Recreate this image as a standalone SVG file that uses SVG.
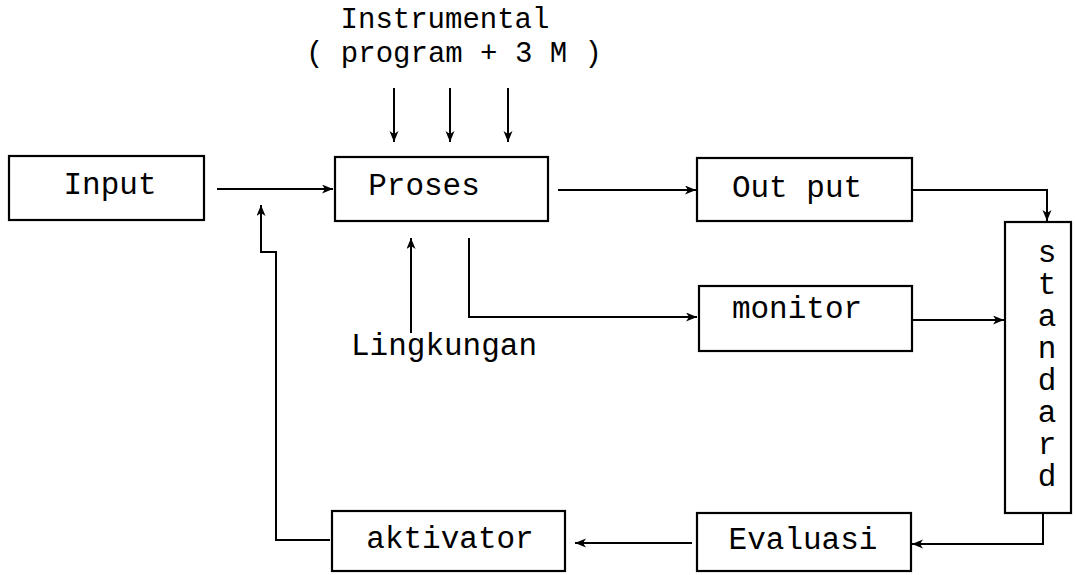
<svg xmlns="http://www.w3.org/2000/svg" width="1076" height="575" viewBox="0 0 1076 575">
<defs>
<marker id="ah" markerUnits="userSpaceOnUse" markerWidth="12" markerHeight="10" refX="11" refY="4.5" orient="auto">
<path d="M0,0 L11,4.5 L0,9 L3,4.5 z" fill="#000"/>
</marker>
<style>
.box{fill:#fff;stroke:#000;stroke-width:2.2}
.t{font-family:"Liberation Mono","Courier New",monospace;font-size:31px;fill:#000;text-anchor:middle}
.s{font-size:29px}
.c{fill:none;stroke:#000;stroke-width:2}
.a{marker-end:url(#ah)}
</style>
</defs>
<rect width="1076" height="575" fill="#fff"/>
<g id="connectors">
<path class="c a" d="M217,189 H333"/>
<path class="c a" d="M558,190 H696"/>
<path class="c a" d="M912,190 H1047 V221"/>
<path class="c a" d="M469,238 V317 H697"/>
<path class="c a" d="M912,320 H1004"/>
<path class="c a" d="M1043,513 V544 H912"/>
<path class="c a" d="M692,543 H575"/>
<path class="c a" d="M330,540 H276 V252 H261 V205"/>
<path class="c a" d="M411,333 V238"/>
<path class="c a" d="M394,88 V142"/>
<path class="c a" d="M450,88 V142"/>
<path class="c a" d="M508,88 V142"/>
</g>
<g id="instrumental">
<text class="t s" x="445" y="28">Instrumental</text>
<text class="t s" x="454" y="62" xml:space="preserve">( program + 3 M )</text>
</g>
<g id="lingkungan">
<text class="t" x="444" y="355">Lingkungan</text>
</g>
<g id="input">
<rect class="box" x="9" y="156" width="195" height="64"/>
<text class="t" x="110" y="194">Input</text>
</g>
<g id="proses">
<rect class="box" x="335" y="157" width="213" height="64"/>
<text class="t" x="424" y="195">Proses</text>
</g>
<g id="output">
<rect class="box" x="697" y="158" width="215" height="63"/>
<text class="t" x="797" y="197" xml:space="preserve">Out put</text>
</g>
<g id="monitor">
<rect class="box" x="699" y="286" width="213" height="65"/>
<text class="t" x="797" y="318">monitor</text>
</g>
<g id="standard">
<rect class="box" x="1005" y="222" width="66" height="291"/>
<text class="t" x="1047" y="262">s</text>
<text class="t" x="1047" y="294">t</text>
<text class="t" x="1047" y="326">a</text>
<text class="t" x="1047" y="358">n</text>
<text class="t" x="1047" y="390">d</text>
<text class="t" x="1047" y="422">a</text>
<text class="t" x="1047" y="454">r</text>
<text class="t" x="1047" y="486">d</text>
</g>
<g id="evaluasi">
<rect class="box" x="697" y="513" width="214" height="58"/>
<text class="t" x="803" y="549">Evaluasi</text>
</g>
<g id="aktivator">
<rect class="box" x="332" y="511" width="233" height="60"/>
<text class="t" x="450" y="548">aktivator</text>
</g>
</svg>
